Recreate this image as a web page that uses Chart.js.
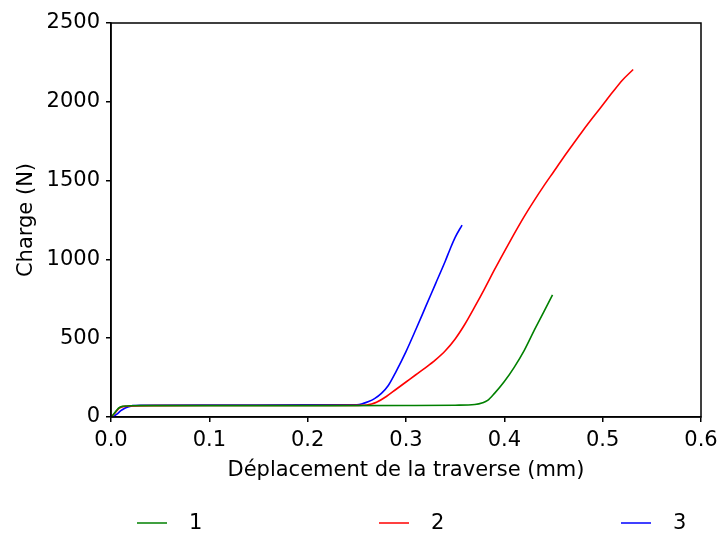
<!DOCTYPE html>
<html>
<head>
<meta charset="utf-8">
<script src="https://cdn.jsdelivr.net/npm/chart.js@4"></script>
<style>
  html, body { margin: 0; padding: 0; background: #fff; }
  #wrap { width: 721px; height: 534px; }
</style>
</head>
<body>
<div id="wrap"><canvas id="c" width="721" height="534"></canvas></div>
<script>
// ---- data ----
const seriesLabels = ['1', '2', '3'];
const seriesColors = ['#008000', '#ff0000', '#0000ff'];

const x1 = [0, 0.003, 0.006, 0.009, 0.012, 0.016, 0.02, 0.03, 0.1, 0.2, 0.3, 0.35, 0.37, 0.378, 0.383, 0.39, 0.40, 0.41, 0.42, 0.43, 0.44, 0.449];
const y1 = [0, 20, 45, 62, 68, 70, 71, 72, 72, 72, 73, 75, 79, 90, 105, 150, 225, 315, 420, 545, 665, 775];

const x2 = [0, 0.004, 0.008, 0.012, 0.016, 0.02, 0.05, 0.1, 0.2, 0.25, 0.26, 0.265, 0.27, 0.28, 0.29, 0.30, 0.31, 0.32, 0.33, 0.34, 0.35, 0.36, 0.37, 0.38, 0.39, 0.40, 0.41, 0.42, 0.43, 0.44, 0.45, 0.46, 0.47, 0.48, 0.49, 0.50, 0.51, 0.52, 0.531];
const y2 = [0, 25, 55, 66, 68, 70, 72, 73, 73, 74, 76, 82, 93, 130, 176, 222, 268, 313, 362, 420, 495, 590, 700, 815, 935, 1050, 1162, 1270, 1370, 1465, 1555, 1645, 1732, 1818, 1900, 1980, 2060, 2137, 2205];

const x3 = [0.002, 0.006, 0.01, 0.014, 0.018, 0.022, 0.03, 0.1, 0.2, 0.25, 0.256, 0.262, 0.268, 0.275, 0.282, 0.29, 0.30, 0.31, 0.32, 0.33, 0.34, 0.345, 0.35, 0.357];
const y3 = [0, 18, 40, 55, 65, 72, 75, 76, 77, 78, 85, 98, 117, 150, 200, 290, 415, 555, 700, 845, 990, 1068, 1140, 1218];

const xTicks = [0, 0.1, 0.2, 0.3, 0.4, 0.5, 0.6];
const yTicks = [0, 500, 1000, 1500, 2000, 2500];
const xTitle = 'Déplacement de la traverse (mm)';
const yTitle = 'Charge (N)';
// ---------------------------------------

const FONT = 'DejaVu Sans';
const FS = 21;

const toPts = (xs, ys) => xs.map((x, i) => ({x: x, y: ys[i]}));
const allX = [x1, x2, x3];
const allY = [y1, y2, y3];

const frame = {
  id: 'frame',
  afterDatasetsDraw(chart) {
    const {ctx, chartArea: a} = chart;
    ctx.save();
    ctx.strokeStyle = '#000';
    ctx.lineWidth = 1.5;
    ctx.strokeRect(a.left, a.top, a.right - a.left, a.bottom - a.top);
    ctx.restore();
  }
};

const bottomLegend = {
  id: 'bottomLegend',
  afterDraw(chart) {
    const {ctx} = chart;
    const y = 523;
    const starts = [137, 379, 621];
    ctx.save();
    ctx.font = FS + 'px "' + FONT + '"';
    ctx.textBaseline = 'middle';
    ctx.fillStyle = '#000';
    chart.data.datasets.forEach((ds, i) => {
      ctx.strokeStyle = ds.borderColor;
      ctx.lineWidth = 1.5;
      ctx.beginPath();
      ctx.moveTo(starts[i], y);
      ctx.lineTo(starts[i] + 30, y);
      ctx.stroke();
      ctx.fillText(ds.label, starts[i] + 52, y + 1);
    });
    ctx.restore();
  }
};

new Chart(document.getElementById('c'), {
  type: 'line',
  data: {
    datasets: seriesLabels.map((lab, i) => ({
      label: lab,
      data: toPts(allX[i], allY[i]),
      borderColor: seriesColors[i],
      backgroundColor: seriesColors[i],
      borderWidth: 1.6,
      pointRadius: 0,
      cubicInterpolationMode: 'monotone',
      fill: false
    }))
  },
  options: {
    responsive: false,
    animation: false,
    events: [],
    layout: { padding: { left: 0, right: 20, top: 23, bottom: 51 } },
    plugins: { legend: { display: false }, tooltip: { enabled: false } },
    scales: {
      x: {
        type: 'linear',
        min: 0, max: 0.6,
        afterBuildTicks: s => { s.ticks = xTicks.map(v => ({value: v})); },
        afterFit: s => { s.height = 66; s.paddingLeft = 0; s.paddingRight = 0; },
        ticks: {
          color: '#000', font: {family: FONT, size: FS}, padding: 6,
          maxRotation: 0, autoSkip: false,
          callback: v => Number(v).toFixed(1)
        },
        grid: { drawOnChartArea: false, drawTicks: true, tickLength: 5, color: '#000', lineWidth: 1.5 },
        border: { display: true, color: '#000', width: 1.5 },
        title: { display: true, text: xTitle, color: '#000', font: {family: FONT, size: FS}, padding: {top: 0, bottom: 0} }
      },
      y: {
        type: 'linear',
        min: 0, max: 2500,
        afterBuildTicks: s => { s.ticks = yTicks.map(v => ({value: v})); },
        afterFit: s => { s.width = 111; s.paddingTop = 0; s.paddingBottom = 0; },
        ticks: { color: '#000', font: {family: FONT, size: FS}, padding: 6, callback: v => String(v) },
        grid: { drawOnChartArea: false, drawTicks: true, tickLength: 5, color: '#000', lineWidth: 1.5 },
        border: { display: true, color: '#000', width: 1.5 },
        title: { display: true, text: yTitle, color: '#000', font: {family: FONT, size: FS}, padding: {top: 14, bottom: 0} }
      }
    }
  },
  plugins: [frame, bottomLegend]
});
</script>
</body>
</html>
